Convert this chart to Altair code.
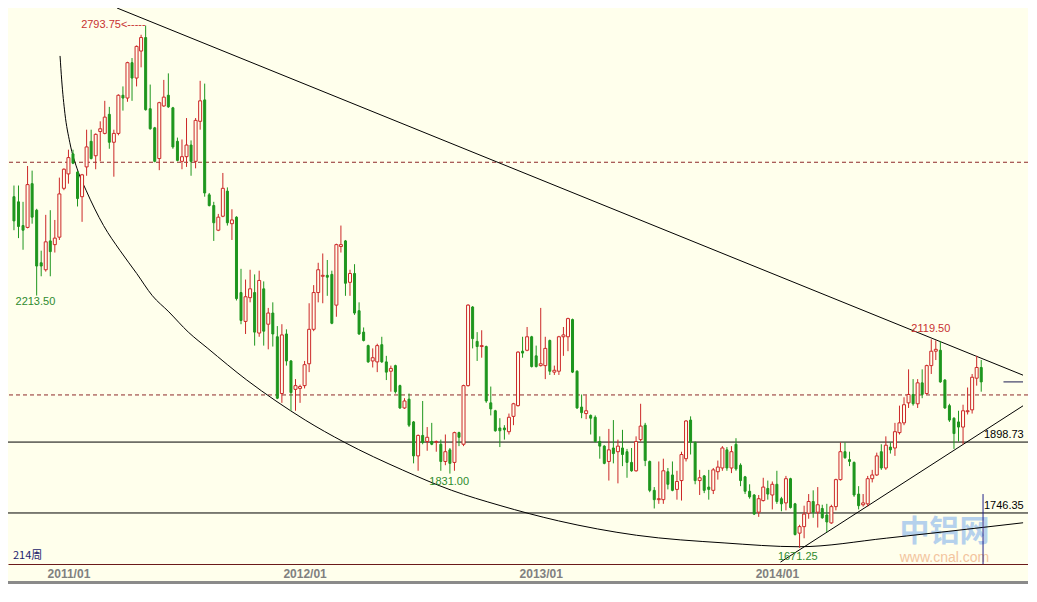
import altair as alt
import pandas as pd

# ---------------- data (weekly aluminium candles) ----------------
open_ = [2426, 2415, 2364, 2360, 2454, 2397, 2284, 2269, 2331, 2323,
         2339, 2444, 2475, 2518, 2479, 2426, 2490, 2545, 2514, 2566,
         2562, 2603, 2543, 2562, 2644, 2638, 2714, 2681, 2739, 2768,
         2615, 2574, 2508, 2621, 2644, 2617, 2545, 2502, 2512, 2537,
         2502, 2588, 2634, 2430, 2407, 2354, 2384, 2438, 2368, 2382,
         2220, 2158, 2209, 2220, 2133, 2228, 2152, 2176, 2125, 2003,
         2131, 2073, 2012, 2014, 2020, 2067, 2141, 2220, 2255, 2257,
         2259, 2193, 2319, 2331, 2242, 2261, 2181, 2135, 2106, 2073,
         2071, 2108, 2071, 2051, 2063, 2020, 1972, 1991, 1942, 1869,
         1913, 1900, 1900, 1898, 1894, 1857, 1882, 1855, 1919, 1894,
         2020, 2189, 2115, 2104, 2104, 1983, 1966, 1929, 1929, 1921,
         1954, 1977, 2094, 2096, 2125, 2084, 2063, 2063, 2117, 2049,
         2051, 2125, 2125, 2162, 2051, 1974, 1960, 1956, 1952, 1900,
         1890, 1857, 1886, 1878, 1886, 1878, 1855, 1837, 1904, 1935,
         1857, 1795, 1775, 1775, 1835, 1828, 1797, 1816, 1863, 1946,
         1898, 1816, 1826, 1802, 1795, 1835, 1843, 1882, 1843, 1894,
         1849, 1824, 1793, 1785, 1748, 1773, 1799, 1785, 1808, 1777,
         1768, 1820, 1766, 1703, 1717, 1746, 1771, 1748, 1756, 1742,
         1725, 1760, 1818, 1878, 1861, 1855, 1787, 1764, 1766, 1820,
         1828, 1878, 1843, 1888, 1886, 1919, 1940, 1983, 2001, 1981,
         2026, 2003, 2063, 2094, 2096, 2032, 1977, 1950, 1942, 1931,
         1964, 1968, 2036, 2059]
high = [2450, 2450, 2415, 2492, 2482, 2400, 2310, 2387, 2397, 2376,
        2467, 2487, 2527, 2527, 2481, 2475, 2570, 2570, 2562, 2588,
        2632, 2619, 2570, 2646, 2663, 2716, 2724, 2751, 2774, 2793.75,
        2667, 2576, 2630, 2677, 2691, 2619, 2553, 2549, 2595, 2547,
        2595, 2675, 2669, 2434, 2415, 2389, 2477, 2446, 2399, 2384,
        2271, 2248, 2269, 2259, 2267, 2244, 2187, 2199, 2148, 2152,
        2141, 2075, 2034, 2022, 2073, 2197, 2236, 2284, 2304, 2290,
        2267, 2325, 2364, 2333, 2269, 2281, 2199, 2145, 2108, 2100,
        2110, 2125, 2084, 2063, 2065, 2022, 1993, 2003, 1944, 1915,
        1987, 1931, 1940, 1902, 1904, 1915, 1886, 1921, 1921, 2022,
        2195, 2191, 2135, 2139, 2106, 2018, 1968, 1950, 1935, 1960,
        1983, 2094, 2125, 2146, 2127, 2106, 2187, 2125, 2119, 2063,
        2127, 2146, 2166, 2164, 2053, 2001, 1999, 1958, 1956, 1911,
        1892, 1927, 1946, 1904, 1925, 1884, 1886, 1911, 1981, 1940,
        1859, 1802, 1857, 1863, 1843, 1857, 1837, 1878, 1946, 1954,
        1900, 1839, 1828, 1839, 1843, 1859, 1890, 1888, 1890, 1907,
        1853, 1826, 1808, 1787, 1785, 1822, 1816, 1814, 1837, 1781,
        1826, 1822, 1768, 1721, 1762, 1787, 1795, 1802, 1764, 1766,
        1764, 1820, 1898, 1898, 1878, 1857, 1804, 1787, 1826, 1839,
        1876, 1894, 1911, 1898, 1940, 1977, 1995, 2055, 2034, 2034,
        2055, 2065, 2119.5, 2117, 2116, 2034, 1981, 1952, 1966, 1979,
        2016, 2045, 2084, 2075]
low = [2354, 2337, 2312, 2358, 2368, 2213.5, 2255, 2265, 2255, 2306,
       2333, 2440, 2454, 2496, 2405, 2372, 2471, 2506, 2485, 2502,
       2560, 2529, 2469, 2558, 2611, 2630, 2632, 2663, 2704, 2611,
       2570, 2500, 2483, 2619, 2617, 2529, 2502, 2485, 2490, 2471,
       2487, 2570, 2426, 2405, 2331, 2352, 2382, 2364, 2333, 2203,
       2152, 2131, 2199, 2106, 2125, 2106, 2098, 2104, 1991, 1983,
       2063, 1966, 1966, 1983, 2014, 2049, 2137, 2199, 2197, 2213,
       2152, 2168, 2306, 2213, 2213, 2172, 2129, 2115, 2069, 2059,
       2049, 2069, 2032, 2007, 2003, 1970, 1970, 1931, 1853, 1837,
       1894, 1880, 1892, 1878, 1837, 1849, 1831, 1837, 1890, 1890,
       2018, 2100, 2073, 2080, 1983, 1956, 1921, 1888, 1904, 1915,
       1935, 1975, 2080, 2094, 2059, 2059, 2061, 2034, 2043, 2043,
       2043, 2084, 2094, 2047, 1970, 1950, 1948, 1915, 1898, 1863,
       1851, 1816, 1853, 1810, 1847, 1822, 1835, 1835, 1900, 1847,
       1791, 1756, 1766, 1766, 1797, 1793, 1775, 1773, 1857, 1872,
       1808, 1785, 1789, 1775, 1787, 1818, 1837, 1837, 1832, 1837,
       1804, 1787, 1777, 1742, 1738, 1771, 1775, 1754, 1766, 1750,
       1752, 1756, 1698, 1671.25, 1692, 1734, 1736, 1715, 1734, 1705,
       1723, 1752, 1816, 1863, 1847, 1781, 1754, 1760, 1760, 1812,
       1826, 1839, 1839, 1874, 1869, 1915, 1935, 1972, 1977, 1972,
       1993, 2001, 2045, 2075, 2026, 1970, 1942, 1884, 1900, 1894,
       1958, 1960, 2020, 2007]
close = [2374, 2362, 2354, 2452, 2382, 2277, 2277, 2329, 2308, 2337,
         2432, 2485, 2510, 2498, 2422, 2473, 2533, 2508, 2560, 2572,
         2597, 2543, 2562, 2644, 2638, 2714, 2681, 2749, 2768, 2613,
         2572, 2502, 2628, 2640, 2619, 2533, 2504, 2512, 2537, 2502,
         2590, 2632, 2434, 2407, 2370, 2382, 2444, 2370, 2376, 2207,
         2160, 2211, 2228, 2135, 2246, 2137, 2176, 2131, 1993, 2129,
         2073, 2005, 2020, 2018, 2065, 2141, 2220, 2269, 2257, 2253,
         2154, 2323, 2323, 2240, 2261, 2176, 2131, 2117, 2071, 2080,
         2106, 2071, 2049, 2057, 2007, 1972, 1987, 1935, 1869, 1913,
         1898, 1909, 1894, 1900, 1857, 1878, 1853, 1919, 1909, 2020,
         2193, 2121, 2104, 2106, 1987, 1970, 1923, 1923, 1925, 1952,
         1981, 2092, 2090, 2125, 2061, 2061, 2067, 2100, 2051, 2053,
         2125, 2129, 2164, 2049, 1972, 1962, 1966, 1950, 1900, 1890,
         1853, 1882, 1874, 1890, 1872, 1855, 1837, 1900, 1933, 1859,
         1795, 1775, 1777, 1837, 1808, 1795, 1814, 1872, 1944, 1898,
         1816, 1822, 1795, 1797, 1839, 1845, 1886, 1843, 1878, 1841,
         1816, 1793, 1781, 1744, 1777, 1802, 1787, 1808, 1771, 1766,
         1820, 1758, 1700, 1717, 1744, 1771, 1748, 1764, 1736, 1727,
         1760, 1818, 1878, 1865, 1857, 1785, 1762, 1768, 1820, 1828,
         1869, 1843, 1892, 1882, 1921, 1940, 1979, 2001, 1981, 2026,
         2001, 2063, 2094, 2098, 2028, 1972, 1946, 1917, 1931, 1966,
         1966, 2038, 2059, 2028]

# time axis (week index of each year label)
tick_weeks = [12, 64, 116, 168]
tick_labels = ["2011/01", "2012/01", "2013/01", "2014/01"]

# horizontal levels
level_prices = [1898.73, 1746.35]
dashed_prices = [2500, 2000]

# drawn trend lines (week index, price)
upper_week = [22.7, 222.2]
upper_price = [2831.5, 2042.5]
support_week = [168.8, 222.2]
support_price = [1640.8, 1976.6]
arc_week = [10.15, 10.51, 11.22, 12.29, 14.09, 15.87, 19.73, 23.38, 27.03, 30.46,
            34.11, 38.40, 42.69, 51.27, 57.70, 64.14, 72.72, 85.59, 96.31, 107.04,
            119.91, 137.07, 156.37, 172.89, 192.19, 205.70, 222.22]
arc_price = [2728.5, 2677, 2605, 2543, 2481, 2440, 2364, 2310, 2261, 2213.5,
             2178.5, 2135, 2100, 2032, 1987, 1946, 1898.5, 1838.6, 1795.3, 1762.4,
             1729.4, 1698.5, 1682, 1673.8, 1692.3, 1706.8, 1725.3]

# extreme labels
ext_week = [4.72, 95.84, 172.6]
ext_price = [2199.1, 1813.9, 1651.7]
ext_text = ["2213.50", "1831.00", "1671.25"]
top_week = [201.9]
top_price = [2140.8]
top_text = ["2119.50"]
max_week = [29.0]
max_price = [2794.4]
max_text = ["2793.75<-----"]
level_week = [213.6, 213.6]
level_label_price = [1913.4, 1760.3]
level_text = ["1898.73", "1746.35"]
period_text = ["214周"]
marker_week = [217.9, 222.2]
marker_price = [2028]
cursor_week = [213.4]
cursor_price = [1787, 1636.7]
wm_week = [204.9, 204.9]
wm_price = [1706.0, 1650.5]
wm_text = ["中铝网", "www.cnal.com"]

# ---------------- styling ----------------
BG = "#FFFFEC"
RED = "#CC2828"
GREEN = "#1E961E"
W, H = 1020, 556
XMIN, XMAX = -0.21, 222.2
YMIN, YMAX = 1636.7, 2831.5
FONT = "Liberation Sans"

xs = alt.Scale(domain=[XMIN, XMAX], nice=False, zero=False)
ys = alt.Scale(domain=[YMIN, YMAX], nice=False, zero=False)

expr = "''"
for w_, l_ in reversed(list(zip(tick_weeks, tick_labels))):
    expr = f"datum.value == {w_} ? '{l_}' : ({expr})"

xaxis = alt.Axis(values=tick_weeks, labelExpr=expr, ticks=False, grid=False,
                 domainColor="#6B1A1A", domainWidth=1, labelColor="#808080",
                 labelFontWeight="bold", labelFont=FONT, labelFontSize=12,
                 labelPadding=4, title=None, labelFlush=False, labelOverlap=False)
X = alt.X("i:Q", scale=xs, axis=xaxis)
Y = alt.Y("p:Q", scale=ys, axis=None)

df = pd.DataFrame({"i": list(range(len(open_))), "o": open_, "h": high, "l": low, "c": close})
df["dir"] = ["up" if c >= o else "down" for o, c in zip(open_, close)]

base = alt.Chart(df)
wicks = base.mark_rule(strokeWidth=1).encode(
    x=X, y=alt.Y("l:Q", scale=ys, axis=None), y2="h:Q",
    color=alt.Color("dir:N", scale=alt.Scale(domain=["up", "down"], range=[RED, GREEN]), legend=None))
down_bodies = base.transform_filter("datum.dir == 'down'").mark_bar(
    size=2, color=GREEN, stroke=GREEN, strokeWidth=1).encode(
    x=X, y=alt.Y("o:Q", scale=ys, axis=None), y2="c:Q")
up_bodies = base.transform_filter("datum.dir == 'up'").mark_bar(
    size=3, fill=BG, stroke=RED, strokeWidth=1).encode(
    x=X, y=alt.Y("o:Q", scale=ys, axis=None), y2="c:Q")

dashed = alt.Chart(pd.DataFrame({"p": dashed_prices})).mark_rule(
    color="#8E2A2A", strokeWidth=1, strokeDash=[4, 3]).encode(y=Y)
levels = alt.Chart(pd.DataFrame({"p": level_prices})).mark_rule(
    color="#000000", strokeWidth=1).encode(y=Y)

upper = alt.Chart(pd.DataFrame({"i": upper_week, "p": upper_price})).mark_line(
    color="#000000", strokeWidth=1, clip=True).encode(x=X, y=Y)
support = alt.Chart(pd.DataFrame({"i": support_week, "p": support_price})).mark_line(
    color="#000000", strokeWidth=1, clip=True).encode(x=X, y=Y)
arc = alt.Chart(pd.DataFrame({"i": arc_week, "p": arc_price})).mark_line(
    color="#000000", strokeWidth=1, interpolate="monotone", clip=True).encode(x=X, y=Y)

marker = alt.Chart(pd.DataFrame({"i": [marker_week[0]], "i2": [marker_week[1]], "p": marker_price})).mark_rule(
    color="#1A1A50", strokeWidth=1).encode(x=X, x2="i2:Q", y=Y)
cursor = alt.Chart(pd.DataFrame({"i": cursor_week, "p": [cursor_price[0]], "p2": [cursor_price[1]]})).mark_rule(
    color="#22228A", strokeWidth=1).encode(x=X, y=Y, y2="p2:Q")

wm_cn = alt.Chart(pd.DataFrame({"i": [wm_week[0]], "p": [wm_price[0]], "t": [wm_text[0]]})).mark_text(
    font="Noto Sans CJK SC", fontSize=30, fontWeight="bold", color="#A9C9EC", opacity=0.85,
    align="center", baseline="middle").encode(x=X, y=Y, text="t:N")
wm_en = alt.Chart(pd.DataFrame({"i": [wm_week[1]], "p": [wm_price[1]], "t": [wm_text[1]]})).mark_text(
    font=FONT, fontSize=14, color="#F2BE96", opacity=0.9,
    align="center", baseline="middle").encode(x=X, y=Y, text="t:N")

ext_lbl = alt.Chart(pd.DataFrame({"i": ext_week, "p": ext_price, "t": ext_text})).mark_text(
    font=FONT, fontSize=11, color="#2E8B2E", align="center", baseline="middle").encode(x=X, y=Y, text="t:N")
top_lbl = alt.Chart(pd.DataFrame({"i": top_week, "p": top_price, "t": top_text})).mark_text(
    font=FONT, fontSize=11, color="#C83232", align="center", baseline="middle").encode(x=X, y=Y, text="t:N")
max_lbl = alt.Chart(pd.DataFrame({"i": max_week, "p": max_price, "t": max_text})).mark_text(
    font=FONT, fontSize=11, color="#C83232", align="right", baseline="middle").encode(x=X, y=Y, text="t:N")
lvl_lbl = alt.Chart(pd.DataFrame({"i": level_week, "p": level_label_price, "t": level_text})).mark_text(
    font=FONT, fontSize=11, color="#000000", align="left", baseline="middle").encode(x=X, y=Y, text="t:N")
period_lbl = alt.Chart(pd.DataFrame({"i": [XMIN], "p": [1653.8], "t": period_text})).mark_text(
    font="Noto Sans CJK SC", fontSize=11, color="#1C1C6C", align="left", baseline="middle").encode(x=X, y=Y, text="t:N")

bottom_bar = alt.Chart(pd.DataFrame({"p": [0]})).mark_rule(color="#8A8A8A", strokeWidth=3).encode(
    x=alt.value(0), x2=alt.value(W), y=alt.value(H + 18.5))

chart = alt.layer(
    wm_cn, wm_en, dashed, levels, arc, upper, support, marker, cursor,
    wicks, down_bodies, up_bodies,
    ext_lbl, top_lbl, max_lbl, lvl_lbl, period_lbl, bottom_bar
).properties(
    width=W, height=H,
    autosize=alt.AutoSizeParams(type="none"),
    padding={"left": 0, "top": 0, "right": 0, "bottom": 20},
    background=BG,
).configure_view(strokeWidth=0)

chart.save("out.html", embed_options={"renderer": "svg", "actions": False})
